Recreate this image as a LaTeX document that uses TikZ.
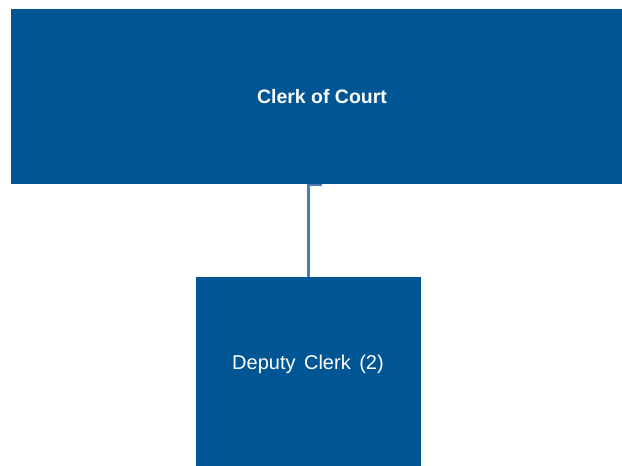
\documentclass[tikz,border=0pt]{standalone}
\usepackage{fontspec}
\setmainfont{Liberation Sans}
\definecolor{boxblue}{RGB}{0,86,148}
\definecolor{linkblue}{RGB}{74,124,180}
\begin{document}
\begin{tikzpicture}[x=0.75pt,y=-0.75pt,
  orgbox/.style={fill=boxblue,draw=none,inner sep=0pt},
  lbl/.style={text=white,inner sep=0pt,anchor=center},
  link/.style={draw=linkblue,line width=1.6pt}]
\useasboundingbox (0,0) rectangle (622,466);
\fill[white] (0,0) rectangle (622,466);
\node[orgbox,minimum width=611*0.75pt,minimum height=175*0.75pt] (top) at (316.5,96.5) {};
\node[orgbox,minimum width=225*0.75pt,minimum height=189*0.75pt] (bot) at (308.5,371.5) {};
\node[lbl,font=\bfseries\fontsize{14.6pt}{17pt}\selectfont] (toplbl) at (322,97) {Clerk of Court};
\node[lbl,font=\fontsize{15pt}{18pt}\selectfont] (botlbl) at (308,364) {Deputy\hspace{0.15em} Clerk\hspace{0.15em} (2)};
\coordinate (elbow) at (322,185);
\draw[link] (elbow) -- (308.5,185) -- (bot.north);
\end{tikzpicture}
\end{document}
